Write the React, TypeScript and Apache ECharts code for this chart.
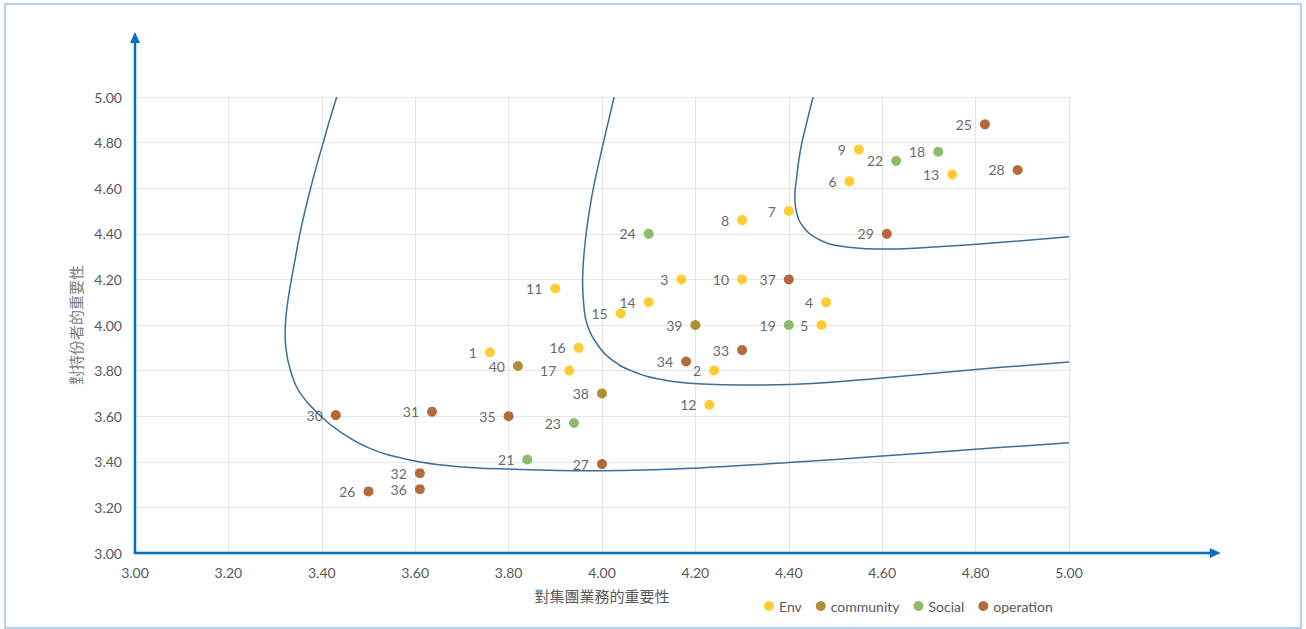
import React, { useEffect, useRef } from "react";
import * as echarts from "echarts";

const envIds = ["1", "2", "3", "4", "5", "6", "7", "8", "9", "10", "11", "12", "13", "14", "15", "16", "17"];
const envX = [3.76, 4.24, 4.17, 4.48, 4.47, 4.53, 4.4, 4.3, 4.55, 4.3, 3.9, 4.23, 4.75, 4.1, 4.04, 3.95, 3.93];
const envY = [3.88, 3.8, 4.2, 4.1, 4.0, 4.63, 4.5, 4.46, 4.77, 4.2, 4.16, 3.65, 4.66, 4.1, 4.05, 3.9, 3.8];

const communityIds = ["38", "39", "40"];
const communityX = [4.0, 4.2, 3.82];
const communityY = [3.7, 4.0, 3.82];

const socialIds = ["18", "19", "21", "22", "23", "24"];
const socialX = [4.72, 4.4, 3.84, 4.63, 3.94, 4.1];
const socialY = [4.76, 4.0, 3.41, 4.72, 3.57, 4.4];

const operationIds = ["25", "26", "27", "28", "29", "30", "31", "32", "33", "34", "35", "36", "37"];
const operationX = [4.82, 3.5, 4.0, 4.89, 4.61, 3.43, 3.636, 3.61, 4.3, 4.18, 3.8, 3.61, 4.4];
const operationY = [4.88, 3.27, 3.39, 4.68, 4.4, 3.605, 3.62, 3.35, 3.89, 3.84, 3.6, 3.28, 4.2];

const outerCurve = [
  [3.432, 5.0], [3.417, 4.9], [3.403, 4.8], [3.389, 4.7], [3.376, 4.6], [3.364, 4.5],
  [3.353, 4.4], [3.344, 4.3], [3.335, 4.2], [3.327, 4.1], [3.322, 4.0], [3.323, 3.9],
  [3.333, 3.8], [3.354, 3.7], [3.398, 3.6], [3.439, 3.532], [3.503, 3.459], [3.589, 3.408],
  [3.675, 3.382], [3.8, 3.368], [4.0, 3.361], [4.2, 3.372], [4.4, 3.397], [4.6, 3.425],
  [4.8, 3.455], [5.0, 3.484],
];
const middleCurve = [
  [4.026, 5.0], [4.0145, 4.9], [4.003, 4.8], [3.992, 4.7], [3.9815, 4.6], [3.973, 4.5],
  [3.966, 4.4], [3.961, 4.3], [3.9585, 4.2], [3.9605, 4.1], [3.9685, 4.0], [3.995, 3.9],
  [4.019, 3.85], [4.062, 3.8], [4.13, 3.76], [4.217, 3.741], [4.331, 3.737], [4.45, 3.743],
  [4.6, 3.768], [4.8, 3.805], [5.0, 3.838],
];
const innerCurve = [
  [4.452, 5.0], [4.438, 4.885], [4.425, 4.768], [4.417, 4.65], [4.413, 4.563], [4.417, 4.49],
  [4.431, 4.431], [4.46, 4.38], [4.51, 4.346], [4.595, 4.333], [4.702, 4.341],
  [4.809, 4.355], [5.0, 4.387],
];

const xTicks = [3.0, 5.0];
const yTicks = [3.0, 5.0];

const GRAY = "#595959";
const AXIS_BLUE = "#0070C0";
const CURVE = "#3B6E9B";

function pts(xs: number[], ys: number[], ids: string[]) {
  return xs.map((x, i) => [x, ys[i], ids[i]]);
}

function scatter(name: string, color: string, data: any[]) {
  return {
    name,
    type: "scatter",
    symbol: "circle",
    symbolSize: 10,
    itemStyle: { color },
    data,
    z: 5,
    label: {
      show: true,
      position: "left",
      distance: 8,
      formatter: (p: any) => p.data[2],
      color: "#404040",
      fontFamily: "Lato",
      fontSize: 14,
    },
  };
}

function curve(data: number[][]) {
  return {
    type: "custom",
    data,
    encode: { x: 0, y: 1 },
    silent: true,
    z: 3,
    renderItem: (params: any, api: any) => {
      if (params.dataIndex !== 0) return null;
      const points = data.map((p) => api.coord(p));
      return {
        type: "polyline",
        shape: { points, smooth: 0.45 },
        style: { stroke: CURVE, lineWidth: 1.5, fill: null },
      };
    },
  };
}

export default function App() {
  const ref = useRef<HTMLDivElement>(null);
  useEffect(() => {
    document.body.style.margin = "0";
    const chart = echarts.init(ref.current!, undefined, { renderer: "svg" });
    chart.setOption({
      animation: false,
      backgroundColor: "#ffffff",
      grid: { left: 135, right: 237, top: 97, bottom: 76 },
      legend: {
        data: ["Env", "community", "Social", "operation"],
        left: 759,
        top: 594,
        icon: "circle",
        itemWidth: 10,
        itemHeight: 10,
        itemGap: 14,
        textStyle: { color: GRAY, fontFamily: "Lato", fontSize: 14 },
      },
      xAxis: {
        type: "value",
        min: xTicks[0],
        max: xTicks[1],
        interval: 0.2,
        name: "對集團業務的重要性",
        nameLocation: "middle",
        nameGap: 35,
        nameTextStyle: { color: GRAY, fontFamily: "Noto Sans CJK TC", fontSize: 15 },
        axisLine: { show: false },
        axisTick: { show: false },
        axisLabel: {
          color: GRAY,
          fontFamily: "Lato",
          fontSize: 14,
          margin: 12,
          formatter: (v: number) => v.toFixed(2),
        },
        splitLine: { show: true, lineStyle: { color: "#E6E6E6", width: 1 } },
      },
      yAxis: {
        type: "value",
        min: yTicks[0],
        max: yTicks[1],
        interval: 0.2,
        name: "對持份者的重要性",
        nameLocation: "middle",
        nameGap: 45,
        nameRotate: 90,
        nameTextStyle: { color: "#808080", fontFamily: "Noto Sans CJK TC", fontSize: 15 },
        axisLine: { show: false },
        axisTick: { show: false },
        axisLabel: {
          color: GRAY,
          fontFamily: "Lato",
          fontSize: 14,
          margin: 13,
          formatter: (v: number) => v.toFixed(2),
        },
        splitLine: { show: true, lineStyle: { color: "#E6E6E6", width: 1 } },
      },
      series: [
        curve(outerCurve),
        curve(middleCurve),
        curve(innerCurve),
        scatter("Env", "#FFC000", pts(envX, envY, envIds)),
        scatter("community", "#9C7300", pts(communityX, communityY, communityIds)),
        scatter("Social", "#70AD47", pts(socialX, socialY, socialIds)),
        scatter("operation", "#A5440E", pts(operationX, operationY, operationIds)),
      ],
    });

    const o = chart.convertToPixel({ xAxisIndex: 0, yAxisIndex: 0 }, [3, 3]) as number[];
    const t = chart.convertToPixel({ xAxisIndex: 0, yAxisIndex: 0 }, [5.325, 5.285]) as number[];
    const ox = o[0], oy = o[1];
    const xTip = t[0], yTip = t[1];
    chart.setOption({
      graphic: [
        {
          type: "rect",
          shape: { x: 5, y: 4, width: 1296, height: 624 },
          style: { fill: "none", stroke: "#9DC3E6", lineWidth: 1.5 },
          silent: true,
        },
        {
          type: "line",
          shape: { x1: ox, y1: oy, x2: ox, y2: yTip + 9 },
          style: { stroke: AXIS_BLUE, lineWidth: 2.5 },
          z: 10,
        },
        {
          type: "polygon",
          shape: { points: [[ox, yTip], [ox - 5, yTip + 11], [ox + 5, yTip + 11]] },
          style: { fill: AXIS_BLUE },
          z: 10,
        },
        {
          type: "line",
          shape: { x1: ox - 1.25, y1: oy, x2: xTip - 9, y2: oy },
          style: { stroke: AXIS_BLUE, lineWidth: 2.5 },
          z: 10,
        },
        {
          type: "polygon",
          shape: { points: [[xTip, oy], [xTip - 11, oy - 5], [xTip - 11, oy + 5]] },
          style: { fill: AXIS_BLUE },
          z: 10,
        },
      ],
    });
    return () => chart.dispose();
  }, []);
  return <div ref={ref} style={{ width: 1306, height: 629 }} />;
}
